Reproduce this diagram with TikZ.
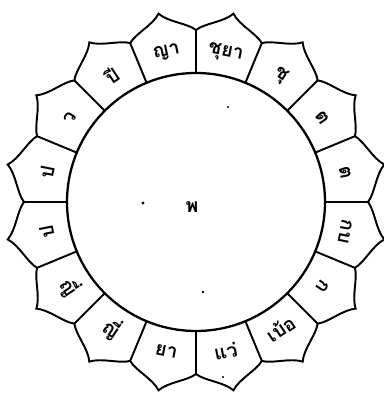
\documentclass[tikz,border=0pt]{standalone}
\usepackage{fontspec}
\usepackage{tikz}
\newfontfamily\thaifont[Script=Thai]{Loma}
\tikzset{
  ring/.style={draw=black, line width=1.3pt},
  petal/.style={draw=black, line width=1.1pt, line join=miter},
  petaltext/.style={font=\thaifont\bfseries\fontsize{11}{13}\selectfont, inner sep=0pt},
  speck/.style={fill=black}
}

\begin{document}
\begin{tikzpicture}[x=0.02cm, y=0.02cm]
  \useasboundingbox (-196,-193) rectangle (188,202);
  % Petals
  \foreach \c in {101.25,78.75,56.25,33.75,11.25,-11.25,-33.75,-56.25,
                  -78.75,-101.25,-123.75,-146.25,-168.75,168.75,146.25,123.75} {
    \draw[petal] ({\c-11.25}:129) -- ({\c-11.25}:172)
      .. controls ({\c-8.5}:179) and ({\c-2.5}:182) .. (\c:192)
      .. controls ({\c+2.5}:182) and ({\c+8.5}:179) .. ({\c+11.25}:172);
  }
  % Disc
  \draw[ring] (0,0) circle[radius=129];
  % Petal texts
  \foreach \c/\r/\txt [count=\i] in {101.25/11.25/ญา, 78.75/-11.25/ชุยา,
      56.25/-33.75/ชุ, 33.75/-56.25/ต, 11.25/-78.75/ต, -11.25/-101.25/กบ,
      -33.75/-123.75/ก, -56.25/33.75/เบ้อ, -78.75/11.25/แว่, -101.25/-11.25/ยา,
      -123.75/-33.75/ญี่, -146.25/-56.25/ญี่, -168.75/101.25/ป, 168.75/78.75/ป,
      146.25/56.25/ว, 123.75/33.75/ปี} {
    \node[petaltext, rotate=\r] (p\i) at (\c:152) {\txt};
  }
  % Centre
  \node[petaltext] (centre) at (-4,-5) {พ};
  \fill[speck] (-53,-1) circle[radius=1.6];
  \fill[speck] (7,-90) circle[radius=1.4];
  \fill[speck] (32,95) circle[radius=1.2];
  \fill[speck] (27,-175) circle[radius=1.2];
\end{tikzpicture}
\end{document}
